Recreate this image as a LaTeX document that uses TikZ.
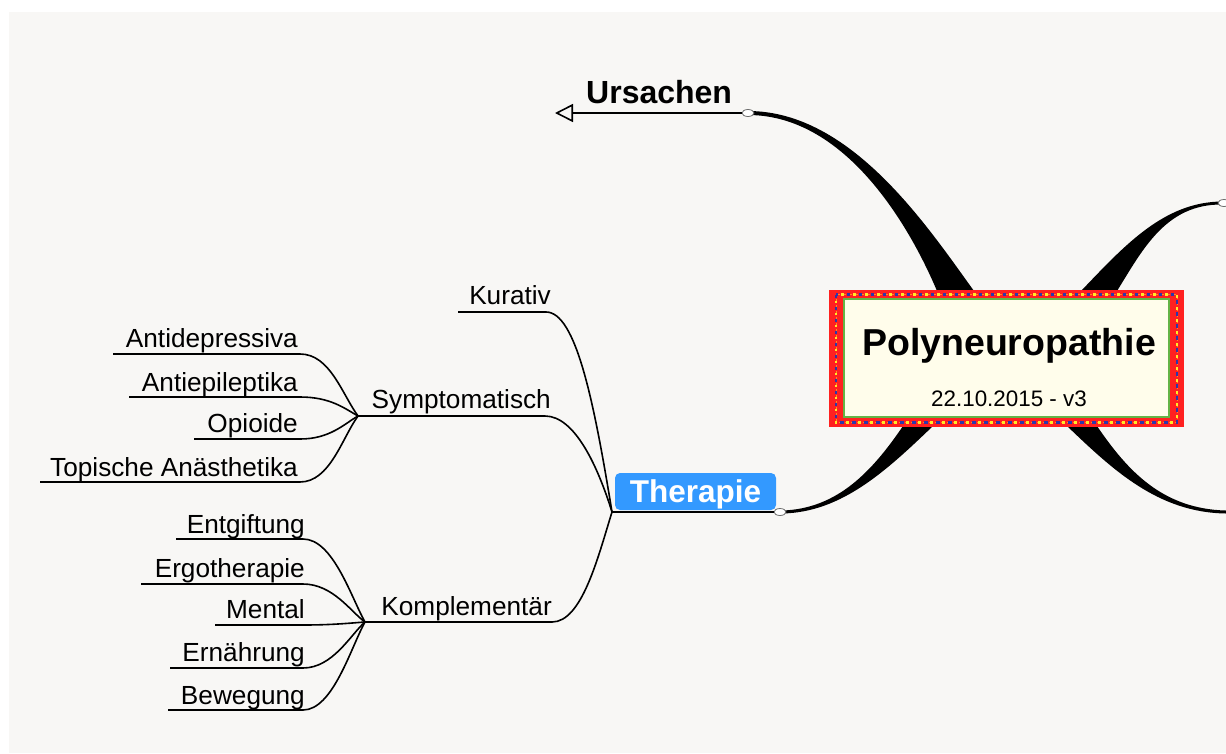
\documentclass[tikz,border=0pt]{standalone}
\usepackage{fontspec}
\setmainfont{Liberation Sans}
\usetikzlibrary{arrows.meta,calc,shapes.geometric}

\definecolor{paper}{RGB}{248,247,245}
\definecolor{frame}{RGB}{255,32,32}
\definecolor{frameorange}{RGB}{255,140,30}
\definecolor{frameblue}{RGB}{45,55,170}
\definecolor{frameyellow}{RGB}{255,235,40}
\definecolor{cream}{RGB}{255,253,235}
\definecolor{leaf}{RGB}{100,180,70}
\definecolor{therablue}{RGB}{51,153,255}
\definecolor{knobgray}{RGB}{110,110,110}

\begin{document}
\begin{tikzpicture}[x=1pt,y=-1pt,
  lbl/.style={inner sep=0pt, anchor=base east, font=\fontsize{26.2}{30}\selectfont},
  twig/.style={line width=1.6pt, black},
  limb/.style={fill=black, draw=none},
  knob/.style={shape=ellipse, draw=knobgray, fill=white, line width=0.8pt,
               minimum width=12pt, minimum height=7pt, inner sep=0pt},
]
% canvas
\useasboundingbox (0,0) rectangle (1226,753);
\fill[white] (0,0) rectangle (1226,753);
\fill[paper] (9,12) rectangle (1226,753);

% attachment points
\coordinate (tip) at (555,113);
\coordinate (f0) at (612,512);
\coordinate (f1) at (358,416);
\coordinate (f2) at (365,622);

% thick tapered main branches (drawn under the root box)
\path[limb] (748,111) .. controls (851,111) and (927,226) .. (974,291)
  -- (937,291) .. controls (913,234) and (849,115) .. (748,115) -- cycle;
\path[limb] (1081,291) .. controls (1125,245) and (1164,202) .. (1222,201.5)
  -- (1222,204.5) .. controls (1166,204) and (1143,249) .. (1117,291) -- cycle;
\path[limb] (1067,426) .. controls (1113,470) and (1158,512.5) .. (1226,513.5)
  -- (1226,510.5) .. controls (1162,509) and (1127,470) .. (1097,426) -- cycle;
\path[limb] (933,426) .. controls (887,470) and (842,512.5) .. (782,513.5)
  -- (782,510.5) .. controls (838,509) and (873,470) .. (903,426) -- cycle;

% branch knobs
\node[knob] (k1) at (748,113) {};
\node[knob] (k2) at (780,512) {};
\node[knob] (k3) at (1224,203) {};

% Ursachen
\draw[line width=1.6pt, -{Triangle[open,length=18pt,width=18pt]}] (k1.west) -- (tip);
\node[inner sep=0pt, anchor=base west, font=\fontsize{32}{36}\bfseries] (ursachen) at (586,103) {Ursachen};

% root box with decorated frame
\node[fill=frame, minimum width=355pt, minimum height=137pt, inner sep=0pt] (root) at (1006.5,358.5) {};
\draw[frameorange, line width=1pt, dash pattern=on 3pt off 3pt, dash phase=1.5pt] (836,294.5) rectangle (1177,422.5);
\draw[frameblue, line width=2.4pt, dash pattern=on 3.5pt off 8.5pt] (836,294.5) rectangle (1177,422.5);
\draw[frameyellow, line width=2.6pt, dash pattern=on 2.6pt off 9.4pt, dash phase=6pt] (836,294.5) rectangle (1177,422.5);
\draw[leaf, fill=cream, line width=1.2pt] (844,299) rectangle (1169,417);
\node[inner sep=0pt, anchor=base, font=\fontsize{37.5}{40}\bfseries] (title) at (1009,355) {Polyneuropathie};
\node[inner sep=0pt, anchor=base, font=\fontsize{22.4}{26}\selectfont] (date) at (1009,406) {22.10.2015 - v3};

% Therapie
\draw[twig] (f0) -- (k2.west);
\node[fill=therablue, rounded corners=5pt, minimum width=161pt, minimum height=37pt, inner sep=0pt,
      text=white, font=\fontsize{31.5}{34}\bfseries, text height=21.5pt, text depth=0pt] (thera) at (695.5,491.5) {Therapie};

% second level
\node[lbl] (kurativ) at (551,304) {Kurativ};
\node[lbl] (sympt) at (551,408) {Symptomatisch};
\node[lbl] (kompl) at (552,615) {Komplementär};
\coordinate (kurA) at (458,312);
\coordinate (kurB) at (546,312);
\coordinate (symB) at (545,416);
\coordinate (komB) at (552,622);
\draw[twig] (kurA) -- (kurB) .. controls +(30,0) and +(-18,-110) .. (f0);
\draw[twig] (f1) -- (symB) .. controls +(30,0) and +(-14,-45) .. (f0);
\draw[twig] (f2) -- (komB) .. controls +(30,0) and +(-14,45) .. (f0);

% Symptomatisch leaves
\node[lbl] (antidep) at (298,347) {Antidepressiva};
\node[lbl] (antiepi) at (298,391) {Antiepileptika};
\node[lbl] (opioide) at (298,432) {Opioide};
\node[lbl] (topisch) at (298,476) {Topische Anästhetika};
\coordinate (s1a) at (113,354); \coordinate (s1b) at (300,354);
\coordinate (s2a) at (129,397); \coordinate (s2b) at (300,397);
\coordinate (s3a) at (194,439); \coordinate (s3b) at (300,439);
\coordinate (s4a) at (40,482);  \coordinate (s4b) at (300,482);
\draw[twig] (s1a) -- (s1b) .. controls +(30,0) and +(-16,-22) .. (f1);
\draw[twig] (s2a) -- (s2b) .. controls +(30,0) and +(-14,-8) .. (f1);
\draw[twig] (s3a) -- (s3b) .. controls +(30,0) and +(-14,8) .. (f1);
\draw[twig] (s4a) -- (s4b) .. controls +(30,0) and +(-16,22) .. (f1);

% Komplementär leaves
\node[lbl] (entg) at (305,533) {Entgiftung};
\node[lbl] (ergo) at (305,577) {Ergotherapie};
\node[lbl] (mental) at (305,618) {Mental};
\node[lbl] (ernae) at (305,661) {Ernährung};
\node[lbl] (beweg) at (305,704) {Bewegung};
\coordinate (c1a) at (176,539); \coordinate (c1b) at (303,539);
\coordinate (c2a) at (141,584); \coordinate (c2b) at (303,584);
\coordinate (c3a) at (215,625); \coordinate (c3b) at (303,625);
\coordinate (c4a) at (170,668); \coordinate (c4b) at (303,668);
\coordinate (c5a) at (168,710); \coordinate (c5b) at (303,710);
\draw[twig] (c1a) -- (c1b) .. controls +(30,0) and +(-14,-25) .. (f2);
\draw[twig] (c2a) -- (c2b) .. controls +(30,0) and +(-14,-10) .. (f2);
\draw[twig] (c3a) -- (c3b) .. controls +(30,0) and +(-14,1) .. (f2);
\draw[twig] (c4a) -- (c4b) .. controls +(30,0) and +(-14,12) .. (f2);
\draw[twig] (c5a) -- (c5b) .. controls +(30,0) and +(-14,25) .. (f2);
\end{tikzpicture}
\end{document}
